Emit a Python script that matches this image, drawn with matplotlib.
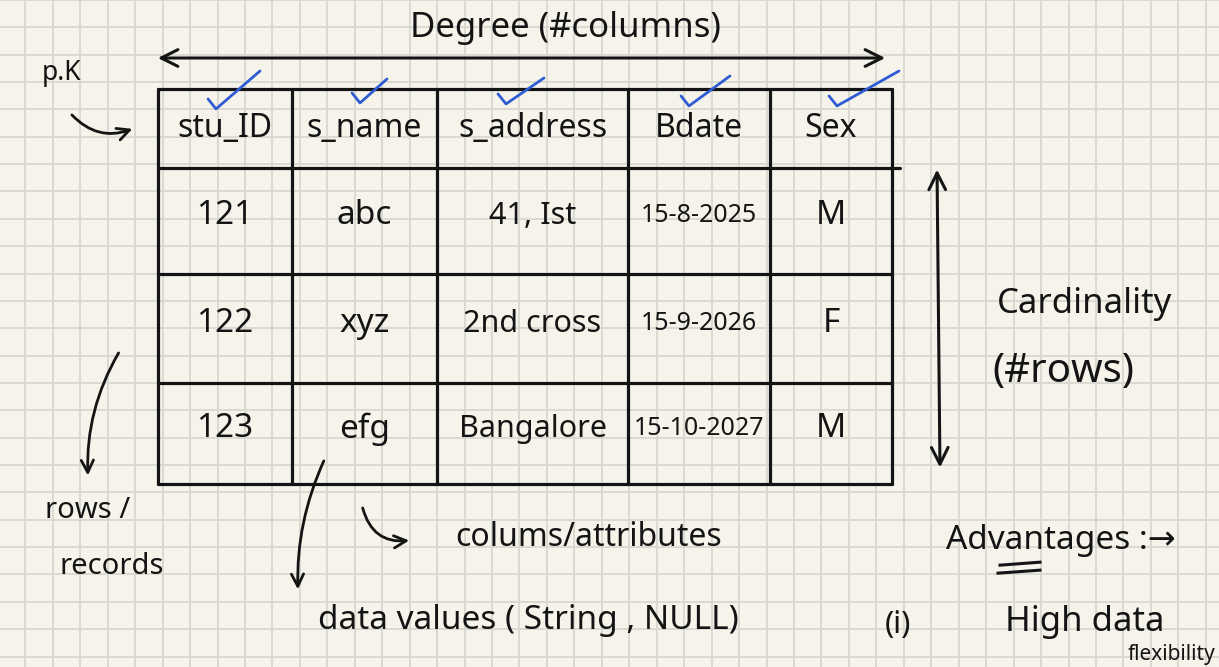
import numpy as np
import matplotlib.pyplot as plt

# table content
headers = ["stu_ID", "s_name", "s_address", "Bdate", "Sex"]
ids = ["121", "122", "123"]
names = ["abc", "xyz", "efg"]
addresses = ["41, Ist", "2nd cross", "Bangalore"]
bdates = ["15-8-2025", "15-9-2026", "15-10-2027"]
sexes = ["M", "F", "M"]

# notes around the table
degree_label = "Degree (#columns)"
card_label = ["Cardinality", "(#rows)"]
row_label = ["rows /", "records"]
col_label = "colums/attributes"
values_label = "data values ( String , NULL)"
pk_label = "p.K"
adv_label = "Advantages :\u2192"
adv_items = ["(i)", "High data", "flexibility"]

ink = "#141414"
blue = "#2f5bd3"
paper = "#f6f4ea"
font = ["Noto Sans", "DejaVu Sans"]

# layout in pixels (y grows downward)
col_edges = [158, 292, 437, 628, 770, 892]
row_edges = [88, 167, 273, 383, 484]

fig = plt.figure(figsize=(12.19, 6.67), dpi=100)
fig.patch.set_facecolor(paper)
ax = fig.add_axes([0, 0, 1, 1])
ax.set_facecolor(paper)
ax.set_xlim(0, 1219)
ax.set_ylim(667, 0)

# squared notebook paper
ax.set_xticks(np.arange(25.4, 1219, 27.45))
ax.set_yticks(np.arange(-1.1, 667, 27.4))
ax.grid(True, color="#d8d7d0", lw=1.3)
ax.tick_params(length=0, labelbottom=False, labelleft=False)
for s in ax.spines.values():
    s.set_visible(False)
ax.set_axisbelow(True)

# table lines
for x in col_edges:
    ax.plot([x, x], [row_edges[0], row_edges[-1]], color=ink, lw=2.3, solid_capstyle="round")
for j, y in enumerate(row_edges):
    right = 900 if j == 1 else col_edges[-1]
    ax.plot([col_edges[0], right], [y, y], color=ink, lw=2.3, solid_capstyle="round")

centers = [(a + b) / 2 for a, b in zip(col_edges[:-1], col_edges[1:])]
rcent = [(a + b) / 2 for a, b in zip(row_edges[:-1], row_edges[1:])]

for cx, h in zip(centers, headers):
    ax.text(cx, rcent[0], h, ha="center", va="center", fontsize=23, color=ink, family=font)

columns = [ids, names, addresses, bdates, sexes]
sizes = [24, 24, 22, 18, 24]
for k, col in enumerate(columns):
    for r, val in enumerate(col):
        ax.text(centers[k], rcent[r + 1] - 5, val, ha="center", va="center",
                fontsize=sizes[k], color=ink, family=font)

# blue ticks over the headers
check_tips = [(216, 108), (360, 102), (506, 103), (689, 105), (837, 105)]
check_ends = [(260, 70), (387, 78), (544, 77), (730, 75), (899, 70)]
for (tx, ty), (ex, ey) in zip(check_tips, check_ends):
    ax.plot([tx - 8, tx, ex], [ty - 10, ty, ey], color=blue, lw=2,
            solid_joinstyle="round", solid_capstyle="round")

# degree arrow
ax.annotate("", xy=(888, 57), xytext=(155, 57),
            arrowprops=dict(arrowstyle="<->", lw=2.2, color=ink, mutation_scale=30))
ax.text(565, 27, degree_label, ha="center", va="center", fontsize=25, color=ink, family=font)

# cardinality arrow
ax.annotate("", xy=(940, 470), xytext=(937, 166),
            arrowprops=dict(arrowstyle="<->", lw=2.2, color=ink, mutation_scale=30))
ax.text(1085, 303, card_label[0], ha="center", va="center", fontsize=25, color=ink, family=font)
ax.text(1063, 372, card_label[1], ha="center", va="center", fontsize=29, color=ink, family=font)

# primary key
ax.text(62, 72, pk_label, ha="center", va="center", fontsize=19, color=ink, family=font)
ax.annotate("", xy=(135, 127), xytext=(70, 112),
            arrowprops=dict(arrowstyle="->", lw=2, color=ink, mutation_scale=22,
                            connectionstyle="arc3,rad=0.35"))

# rows / records
ax.annotate("", xy=(88, 478), xytext=(120, 350),
            arrowprops=dict(arrowstyle="->", lw=2, color=ink, mutation_scale=22,
                            connectionstyle="arc3,rad=0.15"))
ax.text(88, 510, row_label[0], ha="center", va="center", fontsize=21, color=ink, family=font)
ax.text(112, 566, row_label[1], ha="center", va="center", fontsize=21, color=ink, family=font)

# data values
ax.annotate("", xy=(298, 592), xytext=(325, 458),
            arrowprops=dict(arrowstyle="->", lw=2, color=ink, mutation_scale=22,
                            connectionstyle="arc3,rad=0.12"))
ax.text(528, 620, values_label, ha="center", va="center", fontsize=24, color=ink, family=font)

# columns / attributes
ax.annotate("", xy=(412, 540), xytext=(362, 505),
            arrowprops=dict(arrowstyle="->", lw=2, color=ink, mutation_scale=22,
                            connectionstyle="arc3,rad=0.45"))
ax.text(455, 537, col_label, ha="left", va="center", fontsize=23, color=ink, family=font)

# advantages
ax.text(946, 540, adv_label, ha="left", va="center", fontsize=24, color=ink, family=font)
ax.plot([1000, 1040], [565, 562], color=ink, lw=2.2)
ax.plot([998, 1040], [573, 570], color=ink, lw=2.2)
ax.text(885, 625, adv_items[0], ha="left", va="center", fontsize=22, color=ink, family=font)
ax.text(1005, 622, adv_items[1], ha="left", va="center", fontsize=25, color=ink, family=font)
ax.text(1215, 654, adv_items[2], ha="right", va="center", fontsize=15, color=ink, family=font)

fig.savefig("out.png", dpi=100, facecolor=paper)
